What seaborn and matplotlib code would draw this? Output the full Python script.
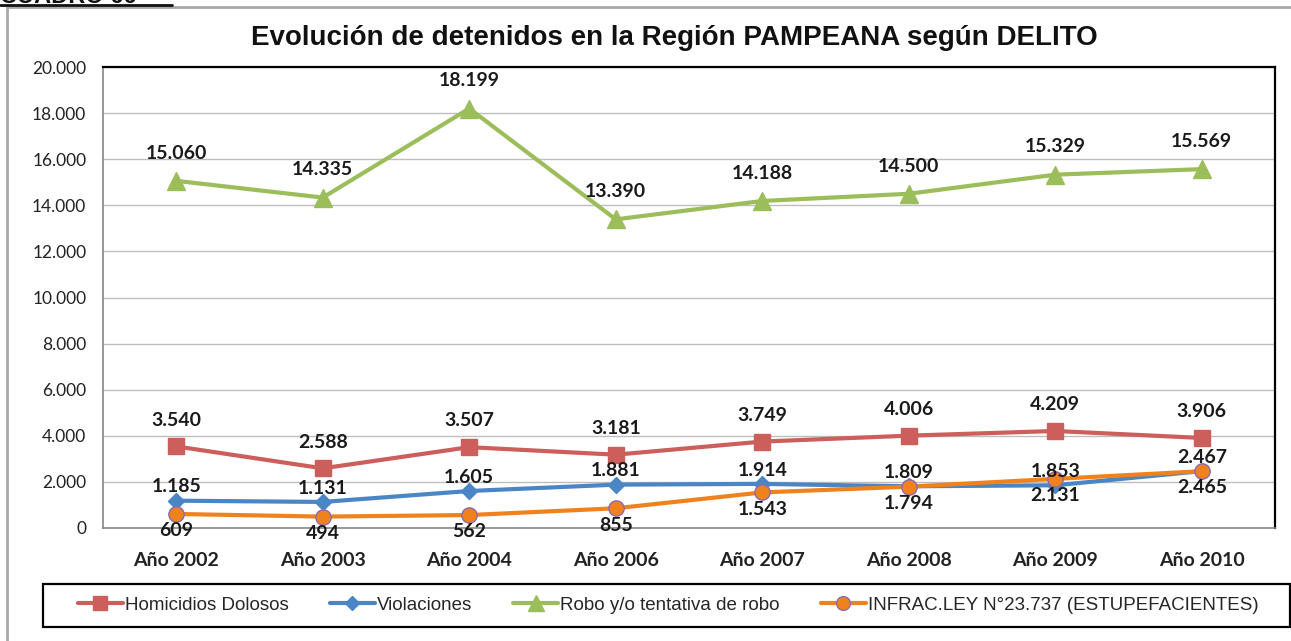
import matplotlib
matplotlib.use("Agg")
import matplotlib.pyplot as plt
from matplotlib.lines import Line2D
from matplotlib.patches import Rectangle
from matplotlib.ticker import FuncFormatter, FixedLocator
import seaborn as sns
import pandas as pd

# --- data -------------------------------------------------------------
years = ["Año 2002", "Año 2003", "Año 2004", "Año 2006",
         "Año 2007", "Año 2008", "Año 2009", "Año 2010"]
homicidios = [3540, 2588, 3507, 3181, 3749, 4006, 4209, 3906]
violaciones = [1185, 1131, 1605, 1881, 1914, 1809, 1853, 2467]
robo = [15060, 14335, 18199, 13390, 14188, 14500, 15329, 15569]
estupefacientes = [609, 494, 562, 855, 1543, 1794, 2131, 2465]
series_names = ["Homicidios Dolosos", "Violaciones",
                "Robo y/o tentativa de robo",
                "INFRAC.LEY N°23.737 (ESTUPEFACIENTES)"]
title = "Evolución de detenidos en la Región PAMPEANA según DELITO"
header = "CUADRO 66"

# --- styling per series (label offset in points) ------------------------
styles = {
    series_names[0]: dict(color="#CC5E5B", marker="s", ms=11, mec="#CC5E5B", off=20),
    series_names[1]: dict(color="#4A86C6", marker="D", ms=8, mec="#4A86C6", off=11),
    series_names[2]: dict(color="#9BBE5A", marker="^", ms=13, mec="#9BBE5A", off=21),
    series_names[3]: dict(color="#F0821E", marker="o", ms=11, mec="#8A6AB0", off=-11),
}
values = [homicidios, violaciones, robo, estupefacientes]

rows = []
for name, vals in zip(series_names, values):
    for i, (yr, v) in enumerate(zip(years, vals)):
        rows.append(dict(serie=name, year=yr, pos=i, value=v))
df = pd.DataFrame(rows)

sns.set_theme(style="white")
plt.rcParams["font.family"] = ["Lato", "DejaVu Sans"]

fig = plt.figure(figsize=(12.91, 6.41), dpi=100)
ax = fig.add_axes([103 / 1291, 1 - 528 / 641, (1275 - 103) / 1291, (528 - 67) / 641])

# gridlines first
ax.set_axisbelow(True)
ax.yaxis.grid(True, color="#BEBEBE", linewidth=1.0)

def thousands(v, _):
    return f"{int(v):,}".replace(",", ".")

for name in series_names:
    st = styles[name]
    sub = df[df["serie"] == name]
    sns.lineplot(data=sub, x="pos", y="value", ax=ax, color=st["color"],
                 marker=st["marker"], markersize=st["ms"],
                 markeredgecolor=st["mec"], markeredgewidth=1.0,
                 linewidth=3.0, legend=False, zorder=3)
    for _, r in sub.iterrows():
        ax.annotate(thousands(r["value"], None), (r["pos"], r["value"]),
                    xytext=(0, st["off"]), textcoords="offset points",
                    ha="center", va="center_baseline", fontsize=14, fontweight="bold",
                    color="#1A1A1A", zorder=5)

ax.set_xlim(-0.5, len(years) - 0.5)
ax.set_ylim(0, 20000)
ax.set_yticks(range(0, 20001, 2000))
ax.yaxis.set_major_formatter(FuncFormatter(thousands))
ax.set_xticks(range(len(years)))
ax.set_xticklabels(years, fontweight="bold", fontsize=14, color="#222222")
ax.xaxis.set_minor_locator(FixedLocator([i - 0.5 for i in range(len(years) + 1)]))
ax.tick_params(axis="x", which="major", length=0, pad=17)
ax.tick_params(axis="x", which="minor", length=6, color="#868686", width=1, direction="out")
ax.tick_params(axis="y", length=6, color="#868686", width=1, direction="out",
               labelsize=12.5, labelcolor="#222222", pad=6)
ax.set_xlabel("")
ax.set_ylabel("")
ax.spines["left"].set_color("#868686")
ax.spines["bottom"].set_color("#868686")
ax.spines["left"].set_linewidth(1.2)
ax.spines["bottom"].set_linewidth(1.2)
for s in ("top", "right"):
    ax.spines[s].set_color("#000000")
    ax.spines[s].set_linewidth(1.6)

# title
fig.text(674 / 1291, 1 - 38 / 641, title, ha="center", va="center",
         fontsize=20, fontweight="bold", family=["Liberation Sans", "DejaVu Sans"],
         color="#111111")

# header cut by the top edge of the page
fig.text(0.0, 1 - 3 / 641, header, ha="left", va="baseline", fontsize=17,
         fontweight="bold", family=["Liberation Sans", "DejaVu Sans"], color="#111111")
fig.add_artist(Line2D([0, 172 / 1291], [1 - 5 / 641, 1 - 5 / 641],
                      transform=fig.transFigure, color="#111111", linewidth=2))

# outer chart border
fig.add_artist(Rectangle((7 / 1291, -0.1), 1.2, 1 - 7 / 641 + 0.1,
                         transform=fig.transFigure, fill=False,
                         edgecolor="#A8A8A8", linewidth=2))

# legend frame and entries
fig.add_artist(Rectangle((43 / 1291, 1 - 627 / 641), (1290 - 43) / 1291, 43 / 641,
                         transform=fig.transFigure, fill=False,
                         edgecolor="#000000", linewidth=1.6))
handles = [Line2D([0], [0], color=styles[n]["color"], marker=styles[n]["marker"],
                  markersize=styles[n]["ms"] * 0.9, markeredgecolor=styles[n]["mec"],
                  linewidth=3.0) for n in series_names]
fig.legend(handles, series_names, loc="center", ncol=4,
           bbox_to_anchor=(668 / 1291, 1 - 605 / 641), frameon=False,
           prop=dict(family=["Liberation Sans Narrow", "Liberation Sans", "DejaVu Sans"], size=13.5),
           handlelength=2.4, handletextpad=0.1, columnspacing=2.2)

fig.savefig("out.png", dpi=100)
